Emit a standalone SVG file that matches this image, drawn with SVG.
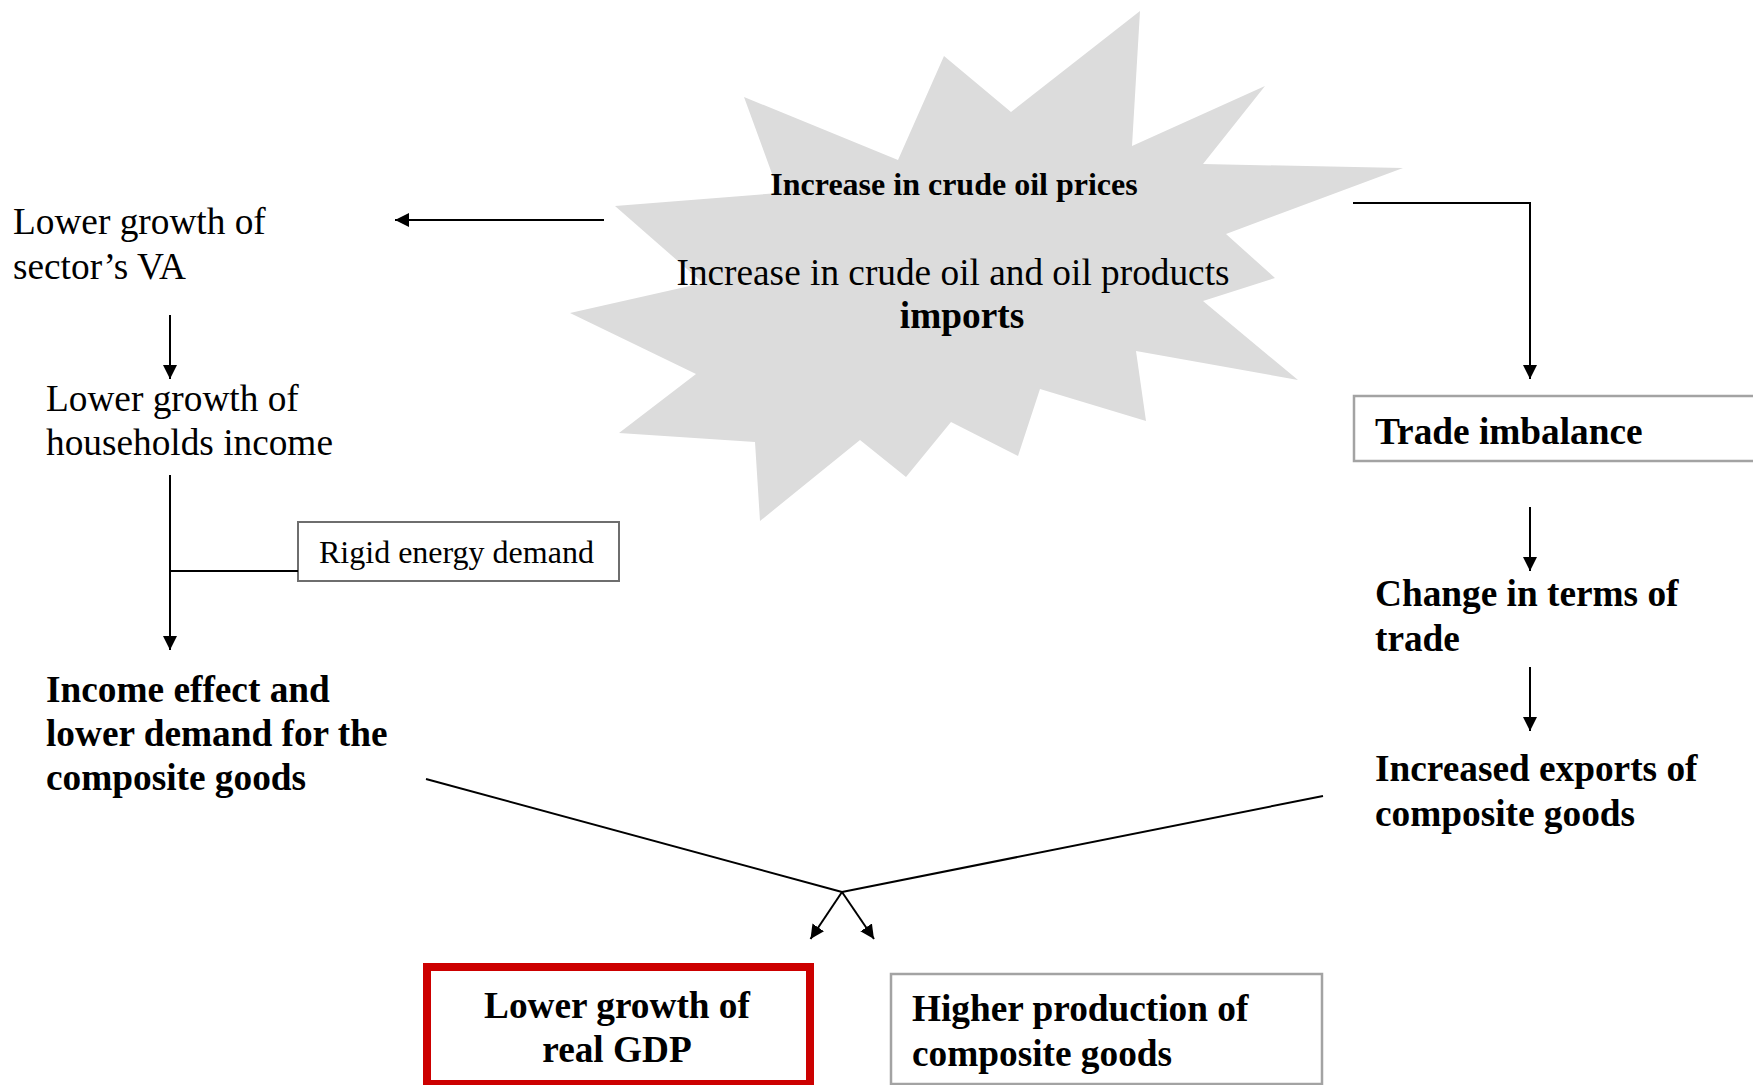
<svg xmlns="http://www.w3.org/2000/svg" width="1753" height="1085" viewBox="0 0 1753 1085">
<style>
text{font-family:"Liberation Serif","Times New Roman",serif;fill:#000}
.r{font-size:37.3px}
.b{font-size:37.3px;font-weight:bold}
.t{font-size:32px;font-weight:bold}
.s{font-size:32px}
.c{stroke:#000;stroke-width:2;fill:none}
.gbox{fill:#fff;stroke:#a3a3a3;stroke-width:2.5}
</style>
<defs>
<marker id="ah" markerUnits="userSpaceOnUse" markerWidth="16" markerHeight="16" refX="14" refY="7" orient="auto">
<path d="M0,0 L14,7 L0,14 z" fill="#000"/>
</marker>
</defs>
<rect width="1753" height="1085" fill="#fff"/>

<g id="shock">
<polygon fill="#dcdcdc" points="1140,11 1132,146 1265,86 1203,164 1403,168 1226,234 1275,278 1203,301 1298,380 1136,351 1146,421 1040,389 1018,456 951,422 906,477 860,440 760,521 755,442 619,433 696,374 570,313 703,283 615,206 779,193 744,97 898,160 944,56 1011,112"/>
<text class="t" x="954" y="195" text-anchor="middle">Increase in crude oil prices</text>
<text class="r" x="953" y="285" text-anchor="middle">Increase in crude oil and oil products</text>
<text class="b" x="962" y="328" text-anchor="middle">imports</text>
</g>

<g id="sector-va">
<text class="r" x="13" y="234">Lower growth of</text>
<text class="r" x="13" y="279">sector’s VA</text>
</g>

<g id="households">
<text class="r" x="46" y="411">Lower growth of</text>
<text class="r" x="46" y="455">households income</text>
</g>

<g id="rigid">
<rect x="298" y="522" width="321" height="59" fill="#fff" stroke="#6e6e6e" stroke-width="2"/>
<text class="s" x="319" y="563">Rigid energy demand</text>
</g>

<g id="income-effect">
<text class="b" x="46" y="702">Income effect and</text>
<text class="b" x="46" y="746">lower demand for the</text>
<text class="b" x="46" y="790">composite goods</text>
</g>

<g id="trade-imbalance">
<rect class="gbox" x="1354" y="396" width="420" height="65"/>
<text class="b" x="1375" y="444">Trade imbalance</text>
</g>

<g id="terms-of-trade">
<text class="b" x="1375" y="606">Change in terms of</text>
<text class="b" x="1375" y="651">trade</text>
</g>

<g id="exports">
<text class="b" x="1375" y="781">Increased exports of</text>
<text class="b" x="1375" y="826">composite goods</text>
</g>

<g id="real-gdp">
<rect x="427" y="967" width="383" height="117" fill="#fff" stroke="#cc0000" stroke-width="8"/>
<text class="b" x="617" y="1018" text-anchor="middle">Lower growth of</text>
<text class="b" x="617" y="1062" text-anchor="middle">real GDP</text>
</g>

<g id="higher-production">
<rect class="gbox" x="891" y="974" width="431" height="110"/>
<text class="b" x="912" y="1021">Higher production of</text>
<text class="b" x="912" y="1066">composite goods</text>
</g>

<g id="connectors">
<line class="c" x1="604" y1="220" x2="395" y2="220" marker-end="url(#ah)"/>
<line class="c" x1="170" y1="315" x2="170" y2="379" marker-end="url(#ah)"/>
<line class="c" x1="170" y1="475" x2="170" y2="650" marker-end="url(#ah)"/>
<line class="c" x1="298" y1="571" x2="170" y2="571"/>
<polyline class="c" points="1353,203 1530,203 1530,379" marker-end="url(#ah)"/>
<line class="c" x1="1530" y1="507" x2="1530" y2="571" marker-end="url(#ah)"/>
<line class="c" x1="1530" y1="667" x2="1530" y2="731" marker-end="url(#ah)"/>
<line class="c" x1="426" y1="779" x2="842" y2="892"/>
<line class="c" x1="1323" y1="796" x2="842" y2="892"/>
<line class="c" x1="842" y1="892" x2="810.5" y2="939" marker-end="url(#ah)"/>
<line class="c" x1="842" y1="892" x2="874" y2="939" marker-end="url(#ah)"/>
</g>
</svg>
